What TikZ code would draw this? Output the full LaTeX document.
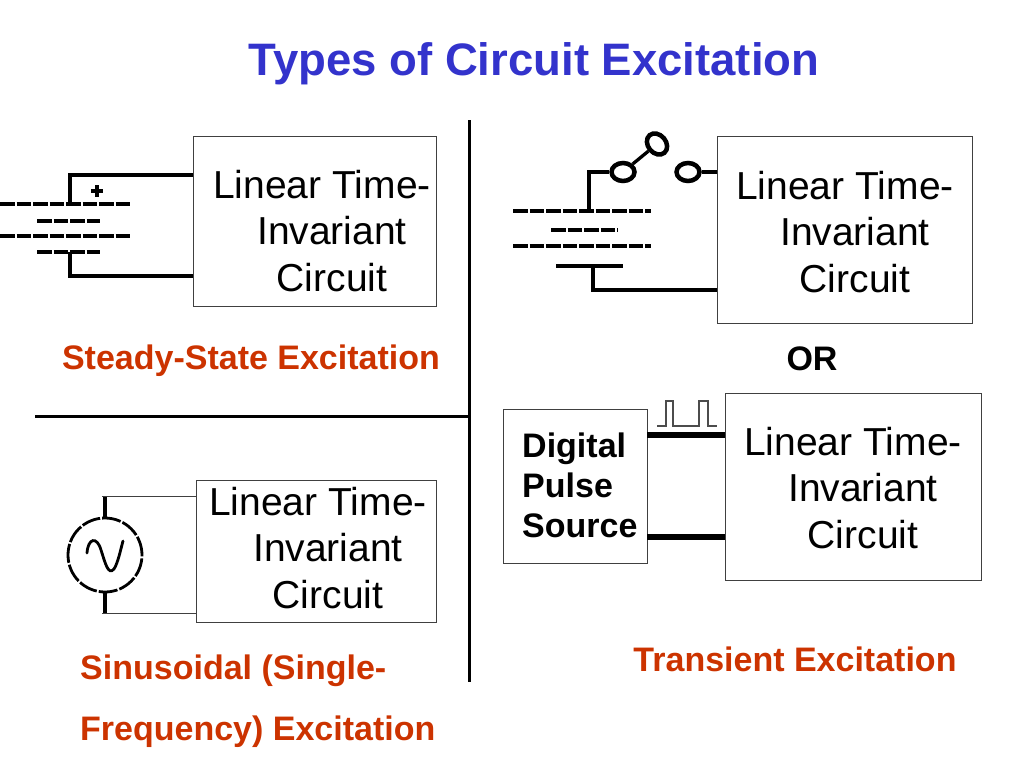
\documentclass[tikz,border=0pt]{standalone}
\usepackage{fontspec}
\setmainfont{Liberation Sans}
\usetikzlibrary{shapes.geometric}
\definecolor{titleblue}{RGB}{51,51,204}
\definecolor{labelred}{RGB}{204,51,0}
\tikzset{
  wire/.style={line width=3.3pt},
  thinwire/.style={line width=1.5pt, black!75},
  plate/.style={line width=3.3pt, dash pattern=on 14.5pt off 2pt},
  ltibox/.style={draw=black!75, line width=1pt, inner sep=0pt, outer sep=0pt},
  ltitext/.style={align=center, inner sep=0pt, font=\fontsize{39}{46.5}\selectfont},
  contact/.style={draw, ellipse, line width=4.5pt, minimum width=23pt, minimum height=18pt, inner sep=0pt},
  excitelabel/.style={inner sep=0pt, text=labelred, font=\fontsize{34}{40}\selectfont\bfseries},
}
\newcommand{\ltilines}{Linear Time-\hspace*{20pt}\\Invariant\\Circuit}
\begin{document}
\begin{tikzpicture}[x=1pt,y=-1pt]
    \useasboundingbox (0,0) rectangle (1024,768);
    \node[inner sep=0pt, text=titleblue, font=\fontsize{45.5}{54}\selectfont\bfseries] (title) at (534,64) {Types of Circuit Excitation};
    % dividing lines
    \draw[line width=3pt] (469,120) -- (469,682);
    \draw[line width=3pt] (35,416) -- (469,416);
    % steady-state (battery)
    \node[ltibox, minimum width=243pt, minimum height=170pt] (lti1) at (314.5,221) {};
    \node[ltitext] (t1) at (332,231) {\ltilines};
    \draw[plate] (0,204) -- (131,204);
    \draw[plate] (37,221) -- (100,221);
    \draw[plate] (0,236) -- (131,236);
    \draw[plate] (37,252) -- (100,252);
    \coordinate (bat1p) at (70,204);
    \coordinate (bat1n) at (70,252);
    \draw[wire] (bat1p) |- (lti1.west |- 0,175);
    \draw[wire] (bat1n) |- (lti1.west |- 0,276);
    \draw[wire] (91,191) -- (103,191) (97,185) -- (97,197);
    \node[excitelabel] (ssl) at (251,361) {Steady-State Excitation};
    % transient (switch)
    \node[ltibox, minimum width=255pt, minimum height=187pt] (lti2) at (844.5,229.5) {};
    \node[ltitext] (t2) at (855,232) {\ltilines};
    \draw[plate] (513,211) -- (651,211);
    \draw[plate] (551,230) -- (618,230);
    \draw[plate] (513,246) -- (651,246);
    \draw[wire] (556,266) -- (623,266);
    \node[contact] (sw1) at (623,172) {};
    \node[contact, rotate=-50] (sw2) at (657,144) {};
    \node[contact] (sw3) at (688,172) {};
    \coordinate (bat2p) at (589,211);
    \coordinate (bat2n) at (593,266);
    \draw[wire] (bat2p) |- (sw1.west);
    \draw[wire] (sw1) -- (sw2);
    \draw[wire] (sw3.east) -- (lti2.west |- sw3.east);
    \draw[wire] (bat2n) |- (lti2.west |- 0,290);
    \node[inner sep=0pt, font=\fontsize{34}{40}\selectfont\bfseries] (or) at (812,359) {OR};
    % sinusoidal
    \node[ltibox, minimum width=240pt, minimum height=142pt] (lti3) at (316,551) {};
    \node[ltitext] (t3) at (328,548) {\ltilines};
    \node[circle, draw, line width=2.8pt, dash pattern=on 19pt off 2pt, minimum size=74pt, inner sep=0pt] (src) at (105,555) {};
    \draw[line width=2.8pt, line cap=round] (87,553) .. controls (88,538) and (97,536) .. (101,550) .. controls (105,562) and (108,576) .. (114,569) .. controls (118,563) and (121,548) .. (123,541);
    \draw[wire] (src.north) -- ++(0,-20) coordinate (srct);
    \draw[wire] (src.south) -- ++(0,20) coordinate (srcb);
    \draw[thinwire] ([xshift=-3pt]srct) -- (lti3.west |- srct);
    \draw[thinwire] ([xshift=-3pt]srcb) -- (lti3.west |- srcb);
    \node[excitelabel, anchor=base west] (sinl1) at (80,679) {Sinusoidal (Single-};
    \node[excitelabel, anchor=base west] (sinl2) at (80,740) {Frequency) Excitation};
    % transient (pulse)
    \node[ltibox, minimum width=144pt, minimum height=154pt] (dps) at (575,486) {};
    \node[inner sep=0pt, align=left, anchor=north west, font=\fontsize{34}{40}\selectfont\bfseries] (dpst) at (522,433) {Digital\\Pulse\\Source};
    \node[ltibox, minimum width=256pt, minimum height=187pt] (lti4) at (853,486.5) {};
    \node[ltitext] (t4) at (863,488) {\ltilines};
    \draw[line width=5.5pt] (dps.east |- 0,435) -- (lti4.west |- 0,435);
    \draw[line width=5.5pt] (dps.east |- 0,537) -- (lti4.west |- 0,537);
    \draw[line width=1.3pt, black!70] (657,426) -- (666,426) -- (666,401) -- (673,401) -- (673,426) -- (699,426) -- (699,401) -- (708,401) -- (708,426) -- (717,426);
    \node[excitelabel] (trl) at (795,659) {Transient Excitation};
\end{tikzpicture}
\end{document}
